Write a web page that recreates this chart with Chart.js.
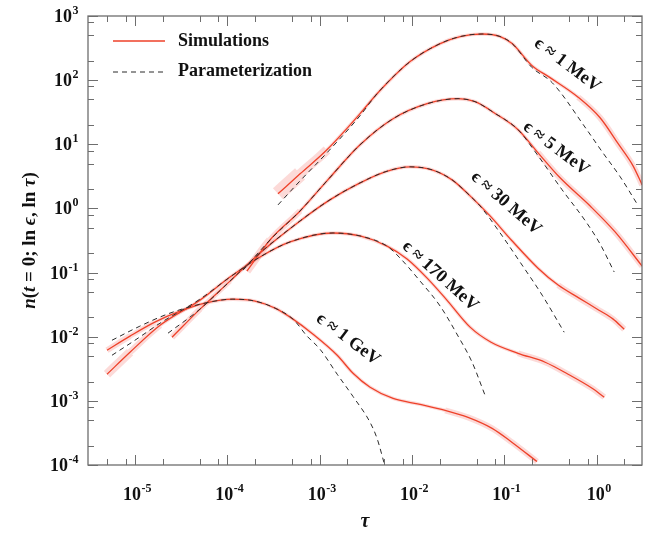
<!DOCTYPE html>
<html>
<head>
<meta charset="utf-8">
<script src="https://cdn.jsdelivr.net/npm/chart.js@4/dist/chart.umd.min.js"></script>
<style>
    html, body { margin: 0; padding: 0; background: #fff; }
    #wrap { width: 650px; height: 539px; position: relative; }
</style>
</head>
<body>
<div id="wrap"><canvas id="spectra"></canvas></div>
<script>
// Photon spectra n(t=0; ln eps, ln tau) for five energies, simulation vs parameterization

// eps ~ 1 MeV
const tau1MeV = [3.54e-4, 6.14e-4, 1.20e-3, 2.74e-3, 4.19e-3, 9.55e-3, 0.0202, 0.0333, 0.0575, 0.0902, 0.1216, 0.200, 0.313, 0.631, 1.09, 1.71, 2.48, 3.11];
const sim1MeV = [1.69, 3.46, 8.20, 30.0, 61.5, 194.5, 371.5, 478.6, 523.6, 478.6, 371.5, 168.0, 109.4, 54.2, 25.9, 10.2, 4.61, 2.33];
const tauFit1MeV = [3.54e-4, 6.14e-4, 1.20e-3, 2.74e-3, 4.19e-3, 9.55e-3, 0.0202, 0.0333, 0.0575, 0.0902, 0.1216, 0.200, 0.330, 0.769, 1.148, 1.80, 2.75];
const fit1MeV = [1.135, 2.69, 7.36, 27.9, 61.5, 194.5, 371.5, 478.6, 523.6, 478.6, 371.5, 156.6, 91.4, 17.5, 7.64, 3.11, 1.17];

// eps ~ 5 MeV
const tau5MeV = [1.63e-4, 2.90e-4, 6.14e-4, 1.20e-3, 2.74e-3, 6.24e-3, 0.0146, 0.0316, 0.0483, 0.0774, 0.141, 0.232, 0.402, 0.851, 1.585, 3.11];
const sim5MeV = [0.105, 0.322, 0.914, 2.69, 9.82, 25.0, 42.9, 51.4, 46.1, 31.0, 16.9, 7.36, 3.00, 1.09, 0.430, 0.126];
const tauFit5MeV = [1.48e-4, 2.90e-4, 6.14e-4, 1.20e-3, 2.74e-3, 6.24e-3, 0.0146, 0.0316, 0.0483, 0.0774, 0.141, 0.216, 0.423, 0.769, 1.09, 1.55];
const fit5MeV = [0.109, 0.322, 0.914, 2.69, 9.82, 25.0, 42.9, 51.4, 46.1, 31.0, 16.9, 7.64, 1.95, 0.615, 0.279, 0.102];

// eps ~ 30 MeV
const tau30MeV = [2.52e-5, 5.06e-5, 1.07e-4, 2.26e-4, 6.14e-4, 1.29e-3, 2.74e-3, 5.12e-3, 9.55e-3, 0.0165, 0.0272, 0.0426, 0.0701, 0.119, 0.232, 0.383, 0.646, 1.06, 1.51, 1.99];
const sim30MeV = [9.8e-3, 0.0269, 0.0736, 0.202, 0.638, 1.36, 2.50, 3.72, 4.45, 4.00, 2.79, 1.57, 0.764, 0.322, 0.117, 0.0638, 0.040, 0.0259, 0.0188, 0.0131];
const tauFit30MeV = [2.28e-5, 5.06e-5, 1.07e-4, 2.26e-4, 6.14e-4, 1.29e-3, 2.74e-3, 5.12e-3, 9.55e-3, 0.0165, 0.0272, 0.0426, 0.0547, 0.0902, 0.148, 0.257, 0.445];
const fit30MeV = [0.01135, 0.0269, 0.0736, 0.202, 0.638, 1.36, 2.50, 3.72, 4.45, 4.00, 2.79, 1.57, 1.09, 0.414, 0.146, 0.0445, 0.01175];

// eps ~ 170 MeV
const tau170MeV = [4.98e-6, 8.83e-6, 1.87e-5, 5.06e-5, 1.07e-4, 2.26e-4, 4.78e-4, 1.40e-3, 2.74e-3, 5.37e-3, 8.85e-3, 0.0146, 0.0234, 0.0426, 0.0719, 0.141, 0.277, 0.491, 0.894, 1.21];
const sim170MeV = [2.60e-3, 5.73e-3, 0.0151, 0.0372, 0.0851, 0.175, 0.300, 0.414, 0.372, 0.259, 0.163, 0.082, 0.0386, 0.0141, 8.2e-3, 5.52e-3, 4.0e-3, 2.60e-3, 1.57e-3, 1.14e-3];
const tauFit170MeV = [5.64e-6, 1.0e-5, 1.87e-5, 5.06e-5, 1.07e-4, 2.26e-4, 4.78e-4, 1.40e-3, 2.74e-3, 5.37e-3, 7.41e-3, 0.01225, 0.0202, 0.0316, 0.0448, 0.0619];
const fit170MeV = [5.14e-3, 8.81e-3, 0.01626, 0.0385, 0.0851, 0.175, 0.300, 0.414, 0.372, 0.259, 0.169, 0.0736, 0.0300, 0.0102, 4.0e-3, 1.22e-3];

// eps ~ 1 GeV
const tau1GeV = [4.98e-6, 8.83e-6, 1.64e-5, 3.07e-5, 5.73e-5, 1.15e-4, 2.0e-4, 3.29e-4, 5.15e-4, 8.49e-4, 1.55e-3, 2.30e-3, 3.52e-3, 6.24e-3, 0.01225, 0.0229, 0.0405, 0.0738, 0.1216, 0.226];
const sim1GeV = [6.15e-3, 0.0102, 0.01687, 0.0250, 0.0334, 0.0385, 0.0359, 0.0279, 0.0188, 0.01094, 5.14e-3, 2.69e-3, 1.63e-3, 1.09e-3, 8.81e-4, 7.11e-4, 5.52e-4, 3.72e-4, 2.25e-4, 1.13e-4];
const tauFit1GeV = [5.64e-6, 1.13e-5, 2.39e-5, 5.73e-5, 1.15e-4, 2.0e-4, 3.29e-4, 5.15e-4, 7.31e-4, 1.01e-3, 1.55e-3, 2.30e-3, 3.52e-3, 4.19e-3, 5.11e-3];
const fit1GeV = [8.81e-3, 0.0146, 0.0233, 0.0334, 0.0385, 0.0359, 0.0279, 0.0188, 0.0102, 6.38e-3, 2.60e-3, 1.17e-3, 4.61e-4, 2.59e-4, 9.5e-5];

const curveLabels = ['ϵ ≈ 1 MeV', 'ϵ ≈ 5 MeV', 'ϵ ≈ 30 MeV', 'ϵ ≈ 170 MeV', 'ϵ ≈ 1 GeV'];
const legendLabels = ['Simulations', 'Parameterization'];

// axis ticks
const tauExponents = ['-5', '-4', '-3', '-2', '-1', '0'];
const nExponents = ['-4', '-3', '-2', '-1', '0', '1', '2', '3'];
const minorSteps = [2, 5, 8];

const TAU_MIN = 3.1e-6, TAU_MAX = 3.1;
const N_MIN = 1e-4, N_MAX = 1e3;

const RED = '#ee4129';
const BAND = 'rgba(238, 70, 60, 0.2)';
const AXIS = '#6e6e6e';
const SERIF = '"Liberation Serif", "DejaVu Serif", serif';

const curves = [
    { tau: tau1MeV, n: sim1MeV, fitTau: tauFit1MeV, fit: fit1MeV },
    { tau: tau5MeV, n: sim5MeV, fitTau: tauFit5MeV, fit: fit5MeV },
    { tau: tau30MeV, n: sim30MeV, fitTau: tauFit30MeV, fit: fit30MeV },
    { tau: tau170MeV, n: sim170MeV, fitTau: tauFit170MeV, fit: fit170MeV },
    { tau: tau1GeV, n: sim1GeV, fitTau: tauFit1GeV, fit: fit1GeV }
];

// band width where each simulation starts (statistics are poor there)
const bandStartWidths = [15, 8, 6, 9, 6];

// where each energy label sits (data coords) and its tilt in degrees
const labelSpots = [
    { tau: 0.48, n: 172, angle: 37 },
    { tau: 0.364, n: 8.6, angle: 37 },
    { tau: 0.1046, n: 1.2, angle: 41 },
    { tau: 0.0202, n: 0.0881, angle: 42 },
    { tau: 2.03e-3, n: 9.14e-3, angle: 37 }
];

function toPoints(xs, ys) {
    return xs.map((x, i) => ({ x: x, y: ys[i] }));
}

function bandWidth(ctx, startWidth) {
    const i = ctx.p0DataIndex;
    const last = ctx.chart.data.datasets[ctx.datasetIndex].data.length - 2;
    if (i === 0) return startWidth;
    if (i === 1) return (startWidth + 4) / 2;
    if (i >= last - 3) return 6;
    return 3.5;
}

const datasets = [];
curves.forEach((c, k) => {
    datasets.push({
        label: 'band',
        data: toPoints(c.tau, c.n),
        borderColor: BAND,
        borderWidth: 4,
        segment: { borderWidth: ctx => bandWidth(ctx, bandStartWidths[k]) },
        order: 3
    });
    datasets.push({
        label: legendLabels[0],
        data: toPoints(c.tau, c.n),
        borderColor: RED,
        borderWidth: 1.3,
        order: 2
    });
    datasets.push({
        label: legendLabels[1],
        data: toPoints(c.fitTau, c.fit),
        borderColor: '#2b2b2b',
        borderWidth: 1,
        borderDash: [5, 4],
        order: 1
    });
});

function decadeTicks(exps) {
    return exps.map(e => Math.pow(10, Number(e)));
}

function minorTicks(lo, hi) {
    const out = [];
    for (let k = Math.floor(Math.log10(lo)) - 1; k <= Math.ceil(Math.log10(hi)); k++) {
        minorSteps.forEach(m => {
            const v = m * Math.pow(10, k);
            if (v >= lo && v <= hi) out.push(v);
        });
    }
    return out;
}

// draws "10" with a raised exponent
function drawPower(ctx, exp, x, y, align) {
    ctx.font = 'bold 18px ' + SERIF;
    const baseW = ctx.measureText('10').width;
    ctx.font = 'bold 12px ' + SERIF;
    const supW = ctx.measureText(exp).width;
    let left = align === 'right' ? x - baseW - supW : x - (baseW + supW) / 2;
    ctx.textAlign = 'left';
    ctx.textBaseline = 'alphabetic';
    ctx.font = 'bold 18px ' + SERIF;
    ctx.fillText('10', left, y);
    ctx.font = 'bold 12px ' + SERIF;
    ctx.fillText(exp, left + baseW + 0.5, y - 8);
}

const framePlugin = {
    id: 'frame',
    afterDraw(chart) {
        const ctx = chart.ctx;
        const area = chart.chartArea;
        const xs = chart.scales.x;
        const ys = chart.scales.y;

        ctx.save();
        ctx.strokeStyle = AXIS;
        ctx.lineWidth = 1.3;
        ctx.strokeRect(area.left, area.top, area.right - area.left, area.bottom - area.top);

        // inward ticks on all four sides
        ctx.lineWidth = 1;
        const tick = (vals, len) => {
            vals.forEach(v => {
                const px = Math.round(xs.getPixelForValue(v)) + 0.5;
                ctx.beginPath();
                ctx.moveTo(px, area.bottom); ctx.lineTo(px, area.bottom - len);
                ctx.moveTo(px, area.top); ctx.lineTo(px, area.top + len);
                ctx.stroke();
            });
        };
        const tickY = (vals, len) => {
            vals.forEach(v => {
                const py = Math.round(ys.getPixelForValue(v)) + 0.5;
                ctx.beginPath();
                ctx.moveTo(area.left, py); ctx.lineTo(area.left + len, py);
                ctx.moveTo(area.right, py); ctx.lineTo(area.right - len, py);
                ctx.stroke();
            });
        };
        tick(decadeTicks(tauExponents), 10);
        tick(minorTicks(TAU_MIN, TAU_MAX), 6);
        tickY(decadeTicks(nExponents), 10);
        tickY(minorTicks(N_MIN, N_MAX), 6);

        // tick labels
        ctx.fillStyle = '#111';
        tauExponents.forEach(e => {
            drawPower(ctx, e, xs.getPixelForValue(Math.pow(10, Number(e))) + 2, area.bottom + 35, 'center');
        });
        nExponents.forEach(e => {
            drawPower(ctx, e, area.left - 10, ys.getPixelForValue(Math.pow(10, Number(e))) + 6, 'right');
        });

        // axis titles
        ctx.font = 'italic bold 20px ' + SERIF;
        ctx.textAlign = 'center';
        ctx.fillText('τ', (area.left + area.right) / 2, area.bottom + 62);

        const parts = [
            ['n', 'italic '], ['(', ''], ['t', 'italic '], [' = ', ''], ['0; ', ''],
            ['ln ', ''], ['ϵ', 'italic '], [', ', ''], ['ln ', ''], ['τ', 'italic '], [')', '']
        ];
        ctx.save();
        ctx.translate(30, (area.top + area.bottom) / 2);
        ctx.rotate(-Math.PI / 2);
        let total = 0;
        parts.forEach(p => {
            ctx.font = p[1] + 'bold 19px ' + SERIF;
            total += ctx.measureText(p[0]).width;
        });
        let cx = -total / 2;
        ctx.textAlign = 'left';
        ctx.textBaseline = 'middle';
        parts.forEach(p => {
            ctx.font = p[1] + 'bold 19px ' + SERIF;
            ctx.fillText(p[0], cx, 0);
            cx += ctx.measureText(p[0]).width;
        });
        ctx.restore();

        // legend
        ctx.font = 'bold 18px ' + SERIF;
        ctx.textAlign = 'left';
        ctx.textBaseline = 'middle';
        ctx.strokeStyle = RED;
        ctx.lineWidth = 1.3;
        ctx.beginPath(); ctx.moveTo(113, 41); ctx.lineTo(165, 41); ctx.stroke();
        ctx.fillText(legendLabels[0], 178, 41);
        ctx.strokeStyle = '#2b2b2b';
        ctx.lineWidth = 1;
        ctx.setLineDash([5, 4]);
        ctx.beginPath(); ctx.moveTo(113, 72); ctx.lineTo(165, 72); ctx.stroke();
        ctx.setLineDash([]);
        ctx.fillText(legendLabels[1], 178, 71);

        // energy labels along the falling tails
        ctx.textAlign = 'center';
        labelSpots.forEach((s, i) => {
            ctx.save();
            ctx.translate(xs.getPixelForValue(s.tau), ys.getPixelForValue(s.n));
            ctx.rotate(s.angle * Math.PI / 180);
            ctx.fillText(curveLabels[i], 0, 0);
            ctx.restore();
        });
        ctx.restore();
    }
};

new Chart(document.getElementById('spectra'), {
    type: 'line',
    data: { datasets: datasets },
    options: {
        responsive: true,
        maintainAspectRatio: false,
        animation: false,
        layout: { padding: { left: 88, right: 8, top: 16, bottom: 74 } },
        elements: {
            point: { radius: 0, hoverRadius: 0 },
            line: { cubicInterpolationMode: 'monotone', fill: false }
        },
        scales: {
            x: { type: 'logarithmic', min: TAU_MIN, max: TAU_MAX, display: false },
            y: { type: 'logarithmic', min: N_MIN, max: N_MAX, display: false }
        },
        plugins: {
            legend: { display: false },
            tooltip: { enabled: false }
        }
    },
    plugins: [framePlugin]
});
</script>
</body>
</html>
